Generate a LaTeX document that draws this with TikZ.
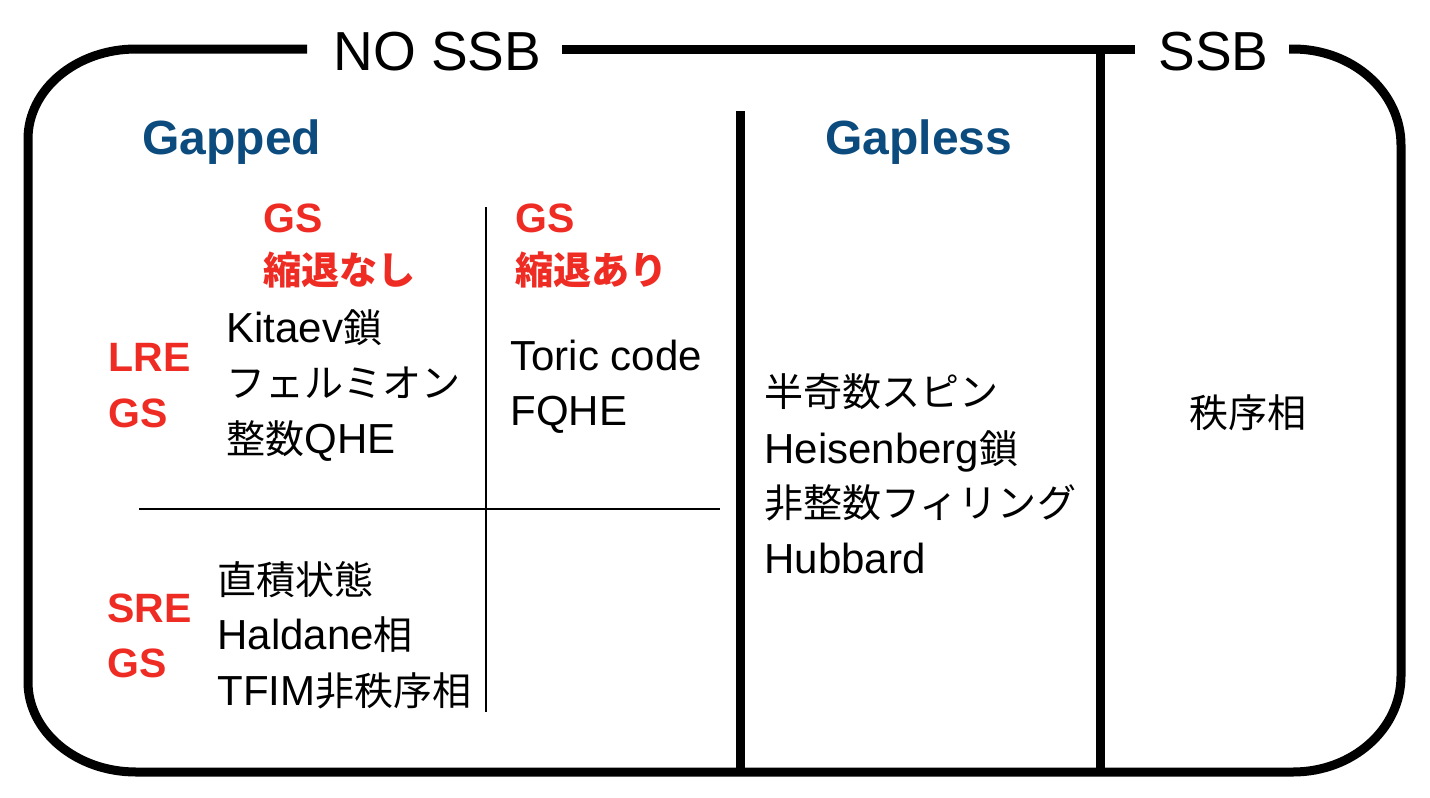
\documentclass[tikz,border=0pt]{standalone}
\usepackage{fontspec}
\setmainfont{Liberation Sans}
\newfontfamily\jp[Scale=0.93]{Noto Sans CJK JP}
\newcommand\J[1]{{\jp #1}}
\definecolor{gapblue}{RGB}{12,75,125}
\definecolor{labred}{RGB}{238,44,36}
\begin{document}
\begin{tikzpicture}[x=0.5pt,y=-0.5pt,
  thickline/.style={line width=4.5pt},
  thinline/.style={line width=1pt},
  txt/.style={inner sep=0pt, anchor=base west, font=\fontsize{21}{25}\selectfont},
  titletxt/.style={inner sep=0pt, anchor=base west, font=\fontsize{27.5}{32}\selectfont},
  headtxt/.style={inner sep=0pt, anchor=base west, text=gapblue, font=\fontsize{24}{28}\selectfont\bfseries},
  redlbl/.style={inner sep=0pt, anchor=base west, text=labred, font=\fontsize{20.5}{24}\selectfont\bfseries}]
\useasboundingbox[fill=white] (0,0) rectangle (1430,798);

% outer frame
\draw[thickline] (307,49) -- (136,49)
  arc[start angle=90,end angle=180,x radius=54pt,y radius=45pt]
  -- (28,682)
  arc[start angle=180,end angle=270,x radius=54pt,y radius=45pt]
  -- (1293,772)
  arc[start angle=270,end angle=360,x radius=54pt,y radius=48pt]
  -- (1401,145)
  arc[start angle=0,end angle=90,x radius=54pt,y radius=48pt]
  -- (1289,49);
\draw[thickline] (562,49) -- (1135,49);
\draw[thickline] (1100,49) -- (1100,772);
\draw[thickline] (740,111) -- (740,772);

% thin grid
\draw[thinline] (486,207) -- (486,712);
\draw[thinline] (139,509) -- (720,509);

% titles
\node[titletxt] (nossb) at (333,70) {NO SSB};
\node[titletxt] (ssb) at (1158,70) {SSB};
\node[headtxt] (gapped) at (142,154) {Gapped};
\node[headtxt] (gapless) at (825,154) {Gapless};

% red labels
\node[redlbl] (gs1) at (263,232) {GS};
\node[redlbl] (deg1) at (263,284) {\J{縮退なし}};
\node[redlbl] (gs2) at (515,232) {GS};
\node[redlbl] (deg2) at (515,284) {\J{縮退あり}};
\node[redlbl] (lre) at (108,371) {LRE};
\node[redlbl] (lregs) at (108,427) {GS};
\node[redlbl] (sre) at (107,622) {SRE};
\node[redlbl] (sregs) at (107,677) {GS};

% LRE, no degeneracy
\node[txt] (kitaev) at (226,342) {Kitaev\J{鎖}};
\node[txt] (fermion) at (226,397) {\J{フェルミオン}};
\node[txt] (iqhe) at (226,453) {\J{整数}QHE};

% LRE, degeneracy
\node[txt] (toric) at (510,370) {Toric code};
\node[txt] (fqhe) at (510,425) {FQHE};

% SRE
\node[txt] (product) at (217,594) {\J{直積状態}};
\node[txt] (haldane) at (217,649) {Haldane\J{相}};
\node[txt] (tfim) at (217,705) {TFIM\J{非秩序相}};

% gapless
\node[txt] (halfspin) at (764,406) {\J{半奇数スピン}};
\node[txt] (heis) at (764,463) {Heisenberg\J{鎖}};
\node[txt] (filling) at (764,517) {\J{非整数フィリング}};
\node[txt] (hubbard) at (764,573) {Hubbard};

% SSB
\node[txt,anchor=base] (ordered) at (1248,427) {\J{秩序相}};
\end{tikzpicture}
\end{document}
